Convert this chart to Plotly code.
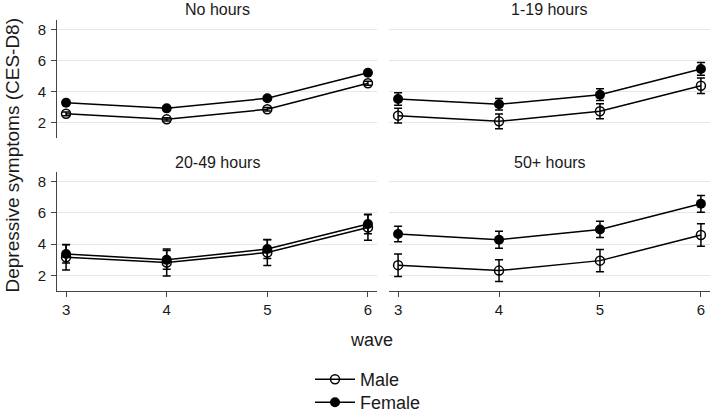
import plotly.graph_objects as go

waves = [3, 4, 5, 6]
panels = ["No hours", "1-19 hours", "20-49 hours", "50+ hours"]

male_mean = {
    "No hours":    [2.55, 2.19, 2.84, 4.52],
    "1-19 hours":  [2.43, 2.06, 2.71, 4.36],
    "20-49 hours": [3.16, 2.82, 3.46, 5.06],
    "50+ hours":   [2.65, 2.30, 2.94, 4.58],
}
male_ci = {
    "No hours":    [0.12, 0.11, 0.11, 0.13],
    "1-19 hours":  [0.48, 0.47, 0.48, 0.50],
    "20-49 hours": [0.82, 0.86, 0.84, 0.82],
    "50+ hours":   [0.72, 0.70, 0.71, 0.72],
}
female_mean = {
    "No hours":    [3.26, 2.90, 3.55, 5.20],
    "1-19 hours":  [3.50, 3.16, 3.78, 5.44],
    "20-49 hours": [3.37, 2.99, 3.68, 5.29],
    "50+ hours":   [4.65, 4.28, 4.94, 6.58],
}
female_ci = {
    "No hours":    [0.10, 0.10, 0.10, 0.11],
    "1-19 hours":  [0.40, 0.37, 0.38, 0.41],
    "20-49 hours": [0.58, 0.60, 0.60, 0.62],
    "50+ hours":   [0.50, 0.54, 0.52, 0.54],
}
y_ticks = [2, 4, 6, 8]
x_ticks = [3, 4, 5, 6]

W, H = 712, 412
FONT = "Liberation Sans, Arial, sans-serif"
TXT = "#1a1a1a"

def px_x(p):
    return p / W

def px_y(p):
    return 1 - p / H

x_doms = [(px_x(57), px_x(377)), (px_x(389), px_x(710))]
y_doms = [(px_y(137.8), px_y(20.0)), (px_y(290.9), px_y(172.3))]

fig = go.Figure()

for i, name in enumerate(panels):
    k = i + 1
    xa = "x" if k == 1 else f"x{k}"
    ya = "y" if k == 1 else f"y{k}"
    fig.add_trace(go.Scatter(
        x=waves, y=male_mean[name], xaxis=xa, yaxis=ya,
        mode="lines+markers", name="Male", showlegend=(k == 1), legend="legend",
        line=dict(color="black", width=1.5),
        marker=dict(symbol="circle-open", size=9, color="black", line=dict(width=1.5)),
        error_y=dict(type="data", array=male_ci[name], color="black", thickness=1.5, width=4),
    ))
    fig.add_trace(go.Scatter(
        x=waves, y=female_mean[name], xaxis=xa, yaxis=ya,
        mode="lines+markers", name="Female", showlegend=(k == 1), legend="legend2",
        line=dict(color="black", width=1.5),
        marker=dict(symbol="circle", size=10, color="black"),
        error_y=dict(type="data", array=female_ci[name], color="black", thickness=1.5, width=4),
    ))

leg_common = dict(x=px_x(310), xanchor="left", yanchor="top",
                  font=dict(size=18), itemwidth=40, bgcolor="rgba(0,0,0,0)")

layout = dict(
    width=W, height=H,
    margin=dict(l=0, r=0, t=0, b=0, autoexpand=False),
    paper_bgcolor="white", plot_bgcolor="white",
    font=dict(family=FONT, color=TXT, size=15),
    legend=dict(y=px_y(361), **leg_common),
    legend2=dict(y=px_y(384), **leg_common),
)

for i, name in enumerate(panels):
    k = i + 1
    row, col = divmod(i, 2)
    xkey = "xaxis" if k == 1 else f"xaxis{k}"
    ykey = "yaxis" if k == 1 else f"yaxis{k}"
    ya = "y" if k == 1 else f"y{k}"
    xa = "x" if k == 1 else f"x{k}"
    bottom = row == 1
    left = col == 0
    layout[xkey] = dict(
        domain=x_doms[col], anchor=ya, range=[2.91, 6.09],
        tickvals=x_ticks, showticklabels=bottom,
        ticks="outside" if bottom else "", ticklen=5, tickcolor="#444",
        ticklabelstandoff=0,
        showline=bottom, linecolor="#444", linewidth=1,
        showgrid=False, zeroline=False,
        tickfont=dict(size=15, color=TXT),
    )
    layout[ykey] = dict(
        domain=y_doms[row], anchor=xa, range=[1.0, 8.6],
        tickvals=y_ticks, showticklabels=left,
        ticks="outside" if left else "", ticklen=5, tickcolor="#444",
        ticklabelstandoff=2,
        showline=left, linecolor="#444", linewidth=1,
        showgrid=True, gridcolor="#e6e6e6", gridwidth=1, zeroline=False,
        tickfont=dict(size=15, color=TXT),
    )

fig.update_layout(**layout)

title_pos = [(217, 10), (549.5, 10), (217, 162), (549.5, 162)]
for name, (cx, cy) in zip(panels, title_pos):
    fig.add_annotation(x=px_x(cx), y=px_y(cy), xref="paper", yref="paper",
                       text=name, showarrow=False, font=dict(size=16, color=TXT),
                       xanchor="center", yanchor="middle")

fig.add_annotation(x=px_x(371), y=px_y(340), xref="paper", yref="paper",
                   text="wave", showarrow=False, font=dict(size=18, color=TXT),
                   xanchor="center", yanchor="middle")
fig.add_annotation(x=px_x(12), y=px_y(155.5), xref="paper", yref="paper",
                   text="Depressive symptoms (CES-D8)", showarrow=False, textangle=-90,
                   font=dict(size=19, color=TXT), xanchor="center", yanchor="middle")

fig.write_html("out.html", config={"displayModeBar": False},
               post_script="document.body.style.margin='0px';")
